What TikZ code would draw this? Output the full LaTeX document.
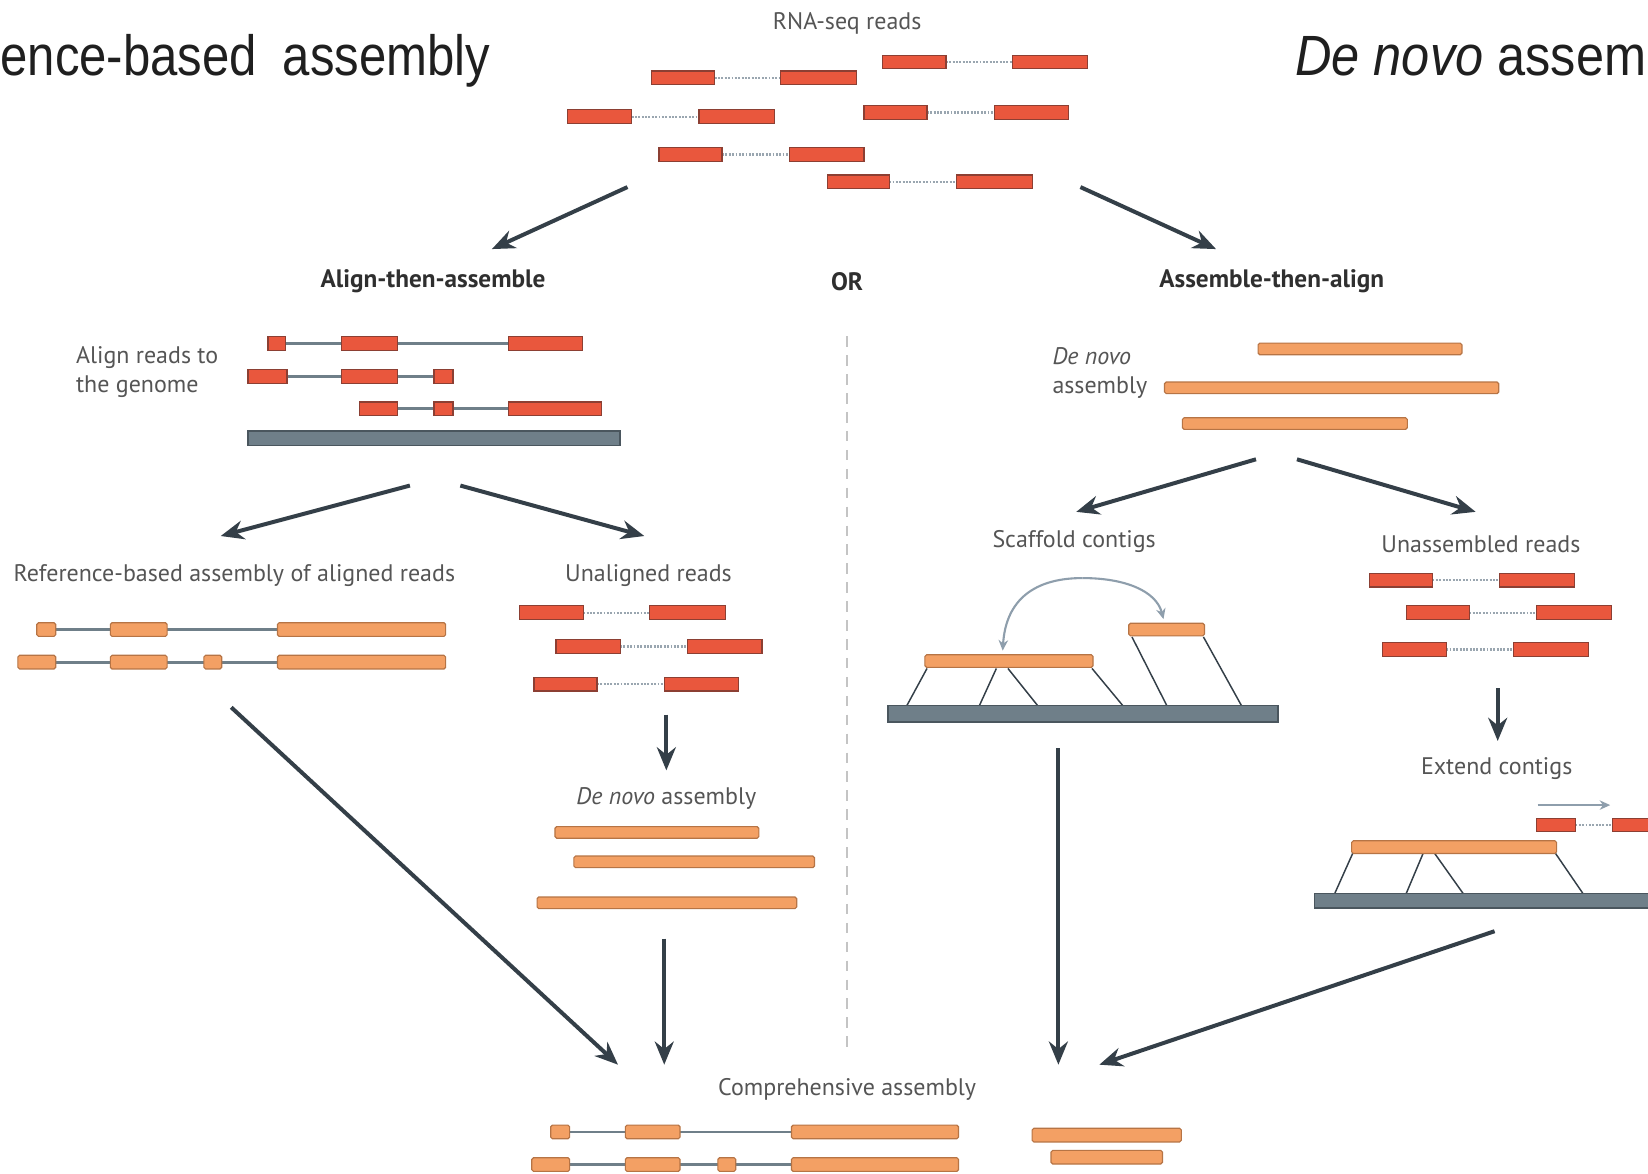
\documentclass[tikz,border=0pt]{standalone}
\usepackage{fontspec}
\setmainfont{Liberation Sans}
\newfontfamily\labfont{PT Sans}
\usetikzlibrary{arrows.meta}

\definecolor{readred}{HTML}{E9573D}
\definecolor{readedge}{HTML}{8C3F33}
\definecolor{contigor}{HTML}{F3A064}
\definecolor{contigedge}{HTML}{B67445}
\definecolor{genomefill}{HTML}{6F7F89}
\definecolor{genomeedge}{HTML}{4A565E}
\definecolor{matec}{HTML}{9AA6B0}
\definecolor{flowc}{HTML}{343F48}
\definecolor{linkc}{HTML}{8E9EAC}
\definecolor{labc}{HTML}{555555}
\definecolor{headc}{HTML}{2F2F2F}
\definecolor{splitc}{HTML}{C4C4C4}

\tikzset{
  read/.style={fill=readred, draw=readedge, line width=0.55pt},
  orbox/.style={fill=contigor, draw=contigedge, line width=0.55pt, rounded corners=0.8pt},
  genomebar/.style={fill=genomefill, draw=genomeedge, line width=0.6pt},
  intron/.style={draw=genomefill, line width=1.3pt},
  mate/.style={draw=matec, line width=1.1pt, dash pattern=on 0.9pt off 0.7pt},
  flow/.style={draw=flowc, line width=1.9pt, -{Stealth[length=11pt,width=9pt]}},
  tether/.style={draw=flowc, line width=0.7pt},
  linktip/.style={draw=linkc, line width=1pt, -{Stealth[length=5pt,width=4.5pt]}},
  lab/.style={font=\labfont\fontsize{11.4}{14}\selectfont, text=labc, inner sep=0pt},
  headlab/.style={font=\labfont\bfseries\fontsize{12}{14}\selectfont, text=headc, inner sep=0pt},
  bigtitle/.style={font=\fontsize{27}{30}\selectfont, text=black!88, inner sep=0pt},
}

% a read pair: y, left box start, left box end, right box start, right box end
\newcommand\matepair[5]{%
  \draw[mate] (#3,#1) -- (#4,#1);
  \draw[read] (#2,#1-6.5) rectangle (#3,#1+6.5);
  \draw[read] (#4,#1-6.5) rectangle (#5,#1+6.5);}
% single red exon / orange exon / orange contig: y, start, end
\newcommand\redexon[3]{\draw[read] (#2,#1-6.5) rectangle (#3,#1+6.5);}
\newcommand\orexon[3]{\draw[orbox] (#2,#1-6.5) rectangle (#3,#1+6.5);}
\newcommand\contigbar[3]{\draw[orbox] (#2,#1-5.5) rectangle (#3,#1+5.5);}

\begin{document}
\begin{tikzpicture}[x=0.5pt, y=-0.5pt]
\useasboundingbox (0,0) rectangle (1568,1117);
\fill[white] (0,0) rectangle (1568,1117);
\begin{scope}
\clip (0,0) rectangle (1568,1117);

% ---------- titles ----------
\node[bigtitle, anchor=base west] (lefttitle) at (0,72)
  {\scalebox{0.865}[1]{ence-based\kern0.25em\ assembly}};
\node[bigtitle, anchor=base west] (righttitle) at (1232,72)
  {\scalebox{0.89}[1]{\textit{De novo} assem}};

% ---------- input reads ----------
\node[lab] (rnaseq) at (806,22) {RNA-seq reads};
\matepair{59}{840}{900}{963}{1035}
\matepair{74}{620}{680}{743}{815}
\matepair{111}{540}{601}{665}{737}
\matepair{107}{822}{882}{946}{1017}
\matepair{147}{627}{687}{751}{822}
\matepair{173}{787}{846}{910}{982}

\coordinate (readsL) at (597,178);
\coordinate (readsR) at (1028,178);
\coordinate (ataIn) at (468,237);
\coordinate (ttaIn) at (1157,237);
\draw[flow] (readsL) -- (ataIn);
\draw[flow] (readsR) -- (ttaIn);

\node[headlab] (ata) at (412,268) {Align-then-assemble};
\node[headlab] (ortext) at (806,268) {OR};
\node[headlab] (tta) at (1210,268) {Assemble-then-align};

% separator
\coordinate (sepTop) at (806,320);
\coordinate (sepBot) at (806,1003);
\draw[splitc, line width=0.8pt, dash pattern=on 5pt off 4pt] (sepTop) -- (sepBot);

% ---------- align-then-assemble ----------
\node[lab, align=left, anchor=west] (alignlab) at (72,354) {Align reads to\\the genome};
\draw[intron] (255,327) -- (554,327);
\redexon{327}{255}{272}\redexon{327}{325}{378}\redexon{327}{484}{554}
\draw[intron] (236,358) -- (431,358);
\redexon{358}{236}{273}\redexon{358}{325}{378}\redexon{358}{413}{431}
\draw[intron] (342,389) -- (572,389);
\redexon{389}{342}{378}\redexon{389}{413}{431}\redexon{389}{484}{572}
\draw[genomebar] (236,410) rectangle (590,424);

\coordinate (alnL) at (390,462);
\coordinate (alnR) at (438,462);
\coordinate (refIn) at (210,510);
\coordinate (unIn) at (613,510);
\draw[flow] (alnL) -- (refIn);
\draw[flow] (alnR) -- (unIn);

\node[lab] (refasm) at (223,548) {Reference-based assembly of aligned reads};
\node[lab] (unal) at (617,548) {Unaligned reads};

\draw[intron] (35,599) -- (424,599);
\orexon{599}{35}{53}\orexon{599}{105}{159}\orexon{599}{264}{424}
\draw[intron] (17,630) -- (424,630);
\orexon{630}{17}{53}\orexon{630}{105}{159}\orexon{630}{194}{211}\orexon{630}{264}{424}

\matepair{583}{494}{555}{618}{690}
\matepair{615}{529}{590}{654}{725}
\matepair{651}{508}{568}{632}{703}

\coordinate (unOut) at (634,680);
\coordinate (dnIn) at (634,733);
\draw[flow] (unOut) -- (dnIn);
\node[lab] (dnasm) at (634,760) {\textit{De novo} assembly};
\contigbar{792}{528}{722}
\contigbar{820}{546}{775}
\contigbar{859}{511}{758}

\coordinate (dnOut) at (632,893);
\coordinate (compInA) at (632,1013);
\draw[flow] (dnOut) -- (compInA);
\coordinate (refOut) at (220,673);
\coordinate (compInB) at (588,1013);
\draw[flow] (refOut) -- (compInB);

% ---------- assemble-then-align ----------
\node[lab, align=left, anchor=west] (dnlab) at (1001,355) {\textit{De novo}\\assembly};
\contigbar{332}{1197}{1391}
\contigbar{369}{1108}{1426}
\contigbar{403}{1125}{1339}

\coordinate (asmL) at (1195,437);
\coordinate (asmR) at (1234,437);
\coordinate (scafIn) at (1024,487);
\coordinate (unasmIn) at (1404,487);
\draw[flow] (asmL) -- (scafIn);
\draw[flow] (asmR) -- (unasmIn);

\node[lab] (scaf) at (1022,515) {Scaffold contigs};
\node[lab] (unasm) at (1409,518) {Unassembled reads};

% scaffolding on the genome
\draw[tether] (882,636) -- (863,671);
\draw[tether] (948,636) -- (932,671);
\draw[tether] (959,636) -- (987,671);
\draw[tether] (1039,636) -- (1068,671);
\draw[tether] (1077,606) -- (1110,671);
\draw[tether] (1145,606) -- (1181,671);
\draw[orbox] (880,623) rectangle (1040,635);
\draw[orbox] (1074,593) rectangle (1146,605);
\draw[genomebar] (845,671) rectangle (1216,687);
\coordinate (linkA) at (954,619);
\coordinate (linkB) at (1107,589);
\draw[linktip] (1030,550) .. controls (1070,550) and (1100,562) .. (linkB);
\draw[linktip] (1030,550) .. controls (985,550) and (957,570) .. (linkA);

\matepair{552}{1303}{1363}{1427}{1498}
\matepair{583}{1338}{1398}{1462}{1533}
\matepair{618}{1315}{1376}{1440}{1511}

\coordinate (unasmOut) at (1425,655);
\coordinate (extIn) at (1425,705);
\draw[flow] (unasmOut) -- (extIn);
\node[lab] (ext) at (1424,731) {Extend contigs};

\coordinate (extA) at (1463,766);
\coordinate (extB) at (1532,766);
\draw[linktip] (extA) -- (extB);
\matepair{785}{1462}{1499}{1534}{1580}
\draw[tether] (1287,812) -- (1270,850);
\draw[tether] (1354,812) -- (1338,850);
\draw[tether] (1365,812) -- (1392,850);
\draw[tether] (1480,812) -- (1506,850);
\draw[orbox] (1286,800) rectangle (1481,812);
\draw[genomebar] (1251,850) rectangle (1580,864);

\coordinate (scafOut) at (1007,712);
\coordinate (compInC) at (1007,1013);
\draw[flow] (scafOut) -- (compInC);
\coordinate (extOut) at (1422,886);
\coordinate (compInD) at (1046,1013);
\draw[flow] (extOut) -- (compInD);

% ---------- comprehensive assembly ----------
\node[lab] (comp) at (806,1037) {Comprehensive assembly};
\draw[intron] (524,1077) -- (912,1077);
\orexon{1077}{524}{542}\orexon{1077}{595}{647}\orexon{1077}{753}{912}
\draw[intron] (506,1108) -- (912,1108);
\orexon{1108}{506}{542}\orexon{1108}{595}{647}\orexon{1108}{683}{700}\orexon{1108}{753}{912}
\orexon{1080}{982}{1124}
\orexon{1101}{1000}{1106}
\end{scope}
\end{tikzpicture}
\end{document}
